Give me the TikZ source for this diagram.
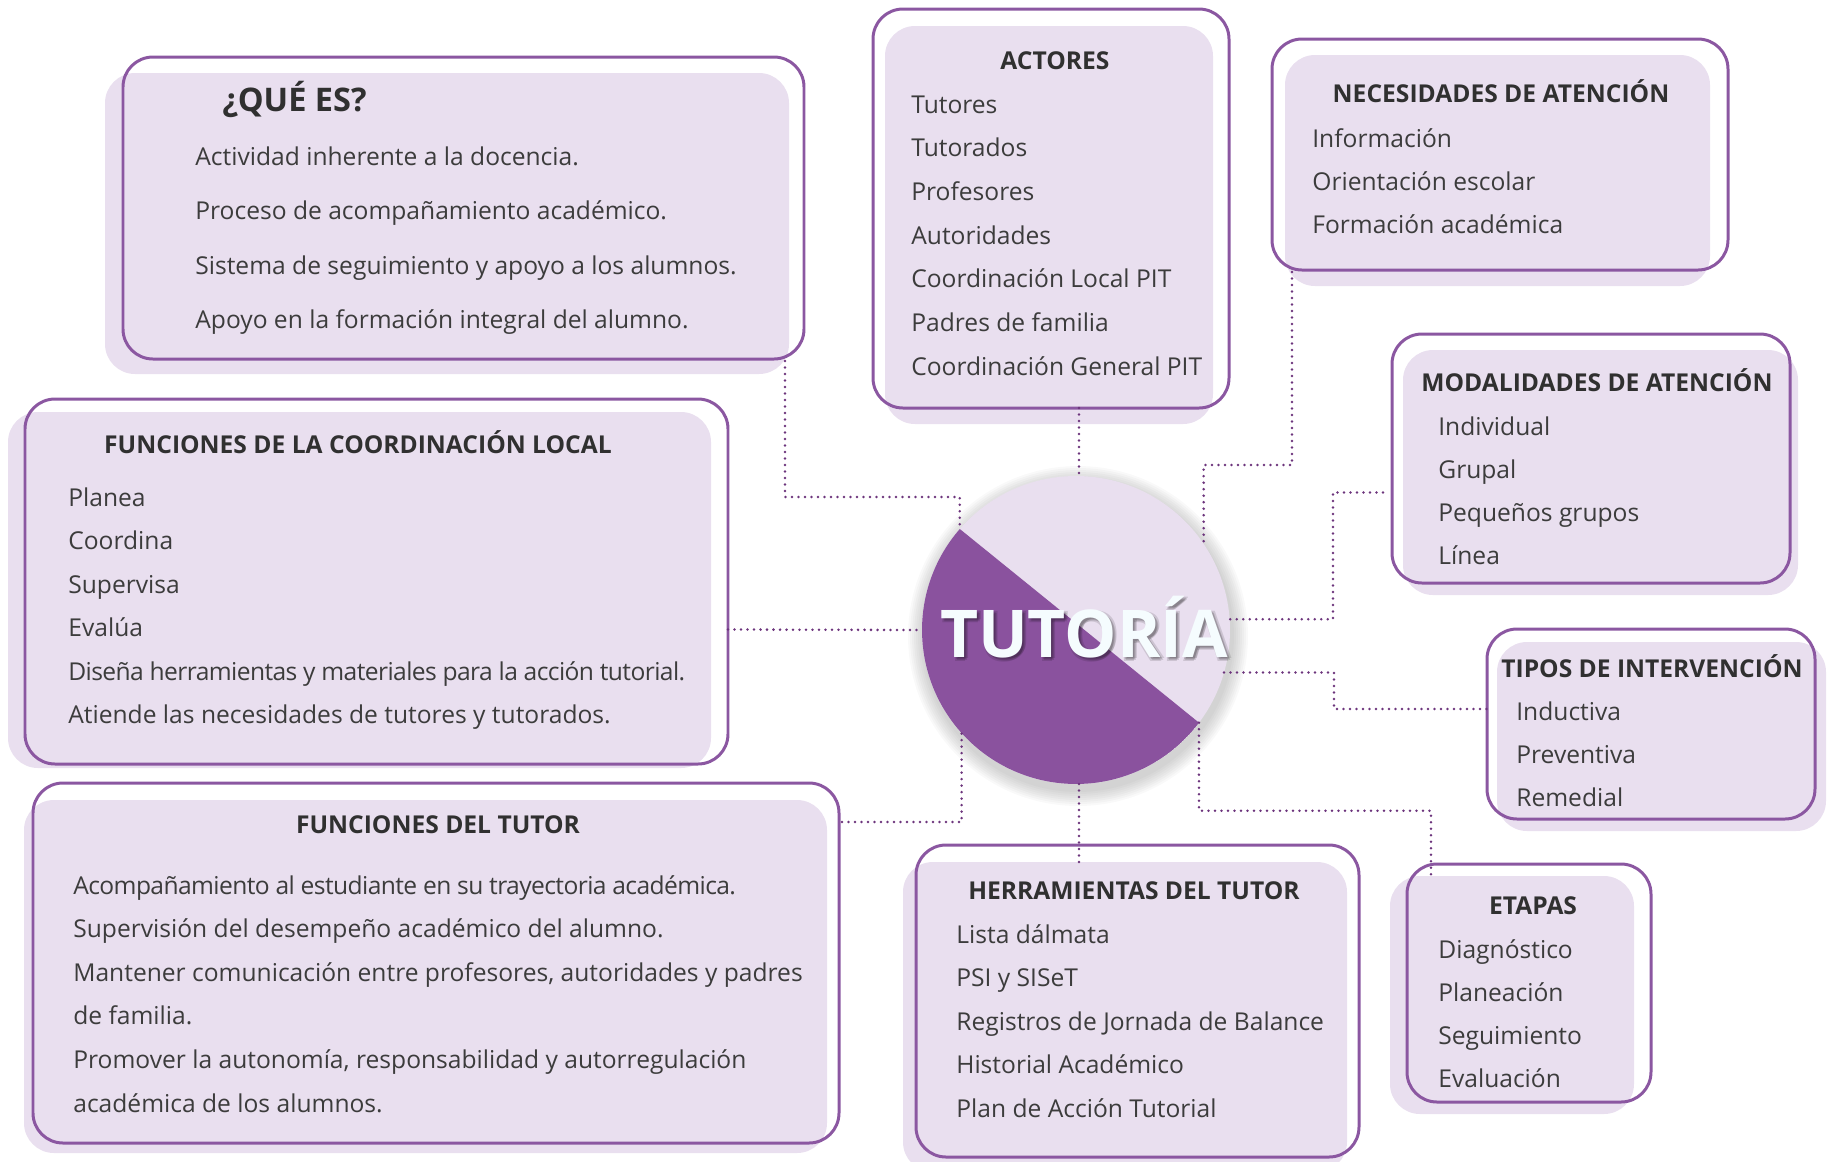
\documentclass[tikz,border=0pt]{standalone}
\usepackage{fontspec}
\setmainfont{Open Sans}
\usepackage{xcolor}
\definecolor{tutline}{RGB}{139,87,161}
\definecolor{tutfill}{RGB}{233,223,239}
\definecolor{tutdark}{RGB}{138,82,158}
\definecolor{tutdots}{RGB}{108,52,124}
\definecolor{tuttext}{RGB}{60,60,60}
\usepackage{tikz}
\newcommand{\px}{0.02cm}
\newcommand{\itemfont}{\fontsize{14}{17}\selectfont}
\newcommand{\titlefont}{\fontsize{14}{17}\selectfont\bfseries}
\newcommand{\bigtitlefont}{\fontsize{18.5}{22}\selectfont\bfseries}
\newcommand{\centerfont}{\fontsize{37.5}{40}\selectfont\bfseries}
\newcommand{\tight}{\addfontfeature{LetterSpace=-2.4}}
\tikzset{
    card/.style={draw=tutline, line width=1.7pt, rounded corners=0.6cm, inner sep=0, outer sep=0},
    cardbg/.style={fill=tutfill, rounded corners=0.6cm, inner sep=0, outer sep=0},
    heading/.style={anchor=base, inner sep=0, font=\titlefont, text=tuttext!80!black},
    entry/.style={anchor=base west, inner sep=0, font=\itemfont, text=tuttext},
    link/.style={tutdots, line width=1.6pt, line cap=round, dash pattern=on 0pt off 3.7pt}
}
\begin{document}
\begin{tikzpicture}[x=\px, y=-\px]
    \useasboundingbox (0,0) rectangle (1827,1161);

    % backgrounds
    \node[cardbg, minimum width=684*\px, minimum height=301*\px] (quees-bg) at (447,223.5) {};
    \node[cardbg, minimum width=328*\px, minimum height=398*\px] (actores-bg) at (1049,225) {};
    \node[cardbg, minimum width=425*\px, minimum height=231*\px] (necesidades-bg) at (1497.5,170.5) {};
    \node[cardbg, minimum width=395*\px, minimum height=245*\px] (modalidades-bg) at (1600.5,472.5) {};
    \node[cardbg, minimum width=329*\px, minimum height=189*\px] (tipos-bg) at (1661.5,736.5) {};
    \node[cardbg, minimum width=244*\px, minimum height=238*\px] (etapas-bg) at (1512,995) {};
    \node[cardbg, minimum width=444*\px, minimum height=310*\px] (herramientas-bg) at (1125,1017) {};
    \node[cardbg, minimum width=803*\px, minimum height=353*\px] (tutor-bg) at (425.5,976.5) {};
    \node[cardbg, minimum width=703*\px, minimum height=356*\px] (coordloc-bg) at (359.5,590) {};

    % outlines
    \node[card, minimum width=681*\px, minimum height=302*\px] (quees) at (463.5,208) {};
    \node[card, minimum width=356*\px, minimum height=399*\px] (actores) at (1051,208.5) {};
    \node[card, minimum width=456*\px, minimum height=231*\px] (necesidades) at (1500,154.5) {};
    \node[card, minimum width=398*\px, minimum height=249*\px] (modalidades) at (1591,458.5) {};
    \node[card, minimum width=328*\px, minimum height=190*\px] (tipos) at (1651,724) {};
    \node[card, minimum width=244*\px, minimum height=238*\px] (etapas) at (1529,983) {};
    \node[card, minimum width=443*\px, minimum height=312*\px] (herramientas) at (1137.5,1001) {};
    \node[card, minimum width=806*\px, minimum height=360*\px] (tutor) at (436,963) {};
    \node[card, minimum width=703*\px, minimum height=365*\px] (coordloc) at (376.5,581.5) {};

    % centre
    \foreach \r in {1,...,8}
        \fill[black, opacity=0.025] (1078,636) circle[radius=3.08cm+\r*0.04cm];
    \node[circle, minimum size=6.16cm, inner sep=0, outer sep=0, fill=tutfill,
        path picture={\fill[tutdark] (path picture bounding box.center) ++(139:3.08cm)
            arc[start angle=139, end angle=323, radius=3.08cm] -- cycle;}] (tutoria) at (1076,630) {};

    \draw[link] ([shift={(-19,2)}]quees.south east) -- ++(0,136) -| (tutoria.139);
    \draw[link] ([xshift=3*\px]tutoria.north |- actores.south) -- ([xshift=3*\px]tutoria.north);
    \draw[link] ([shift={(20,2)}]necesidades.south west) -- ++(0,193) -| (tutoria.34);
    \draw[link] ([shift={(-9,34)}]modalidades.west) -- ++(-50,0) |- (tutoria.4);
    \draw[link] (tutoria.344) -- ++(110,0) |- ([yshift=15*\px]tipos.west);
    \draw[link] (tutoria.323) -- ++(0,88) -| ([shift={(24,13)}]etapas.north west);
    \draw[link] ([xshift=3*\px]tutoria.south) -- ([xshift=3*\px]tutoria.south |- herramientas-bg.north);
    \draw[link] ([shift={(3,-141)}]tutor.east) -| (tutoria.222);
    \draw[link] ([yshift=-48*\px]coordloc.east) -- (tutoria.west);

    \foreach \dx/\dy [count=\k] in {3/3, 1/4, 4/1, 2/2}
        \node[anchor=base, inner sep=0, font=\centerfont, text=black, opacity=0.12] (tutoria-glow-\k) at (1084+\dx,657+\dy) {TUTORÍA};
    \node[anchor=base, inner sep=0, font=\centerfont, text=white!96!cyan] (tutoria-label) at (1084,657) {TUTORÍA};

    % texts
    \node[anchor=base west, inner sep=0, font=\bigtitlefont, text=tuttext!80!black] (quees-title) at (222,111) {¿QUÉ ES?};
    \foreach \txt [count=\i from 0] in {Actividad inherente a la docencia., Proceso de acompañamiento académico.,
        Sistema de seguimiento y apoyo a los alumnos., Apoyo en la formación integral del alumno.}
        \node[entry] (quees-\i) at (195,165+54.5*\i) {\txt};

    \node[heading] (actores-title) at (1055,69) {ACTORES};
    \foreach \txt [count=\i from 0] in {Tutores, Tutorados, Profesores, Autoridades,
        Coordinación Local PIT, Padres de familia, Coordinación General PIT}
        \node[entry] (actores-\i) at (911,113+43.7*\i) {\txt};

    \node[heading] (necesidades-title) at (1501,102) {NECESIDADES DE ATENCIÓN};
    \foreach \txt [count=\i from 0] in {Información, Orientación escolar, Formación académica}
        \node[entry] (necesidades-\i) at (1312,147+43.3*\i) {\txt};

    \node[heading] (modalidades-title) at (1597,391) {MODALIDADES DE ATENCIÓN};
    \foreach \txt [count=\i from 0] in {Individual, Grupal, Pequeños grupos, Línea}
        \node[entry] (modalidades-\i) at (1438,435+43.3*\i) {\txt};

    \node[heading] (tipos-title) at (1652,677) {TIPOS DE INTERVENCIÓN};
    \foreach \txt [count=\i from 0] in {Inductiva, Preventiva, Remedial}
        \node[entry] (tipos-\i) at (1516,720+43.3*\i) {\txt};

    \node[heading] (etapas-title) at (1533,914) {ETAPAS};
    \foreach \txt [count=\i from 0] in {Diagnóstico, Planeación, Seguimiento, Evaluación}
        \node[entry] (etapas-\i) at (1438,958+43.3*\i) {\txt};

    \node[heading] (herramientas-title) at (1134,899) {HERRAMIENTAS DEL TUTOR};
    \foreach \txt [count=\i from 0] in {Lista dálmata, PSI y SISeT, Registros de Jornada de Balance,
        Historial Académico, Plan de Acción Tutorial}
        \node[entry] (herramientas-\i) at (956,943+43.5*\i) {\txt};

    \node[heading] (tutor-title) at (438,833) {FUNCIONES DEL TUTOR};
    \foreach \txt [count=\i from 0] in {{\tight Acompañamiento al estudiante en su trayectoria académica.},
        Supervisión del desempeño académico del alumno.,
        {Mantener comunicación entre profesores, autoridades y padres}, de familia.,
        {Promover la autonomía, responsabilidad y autorregulación}, académica de los alumnos.}
        \node[entry] (tutor-\i) at (73,894+43.6*\i) {\txt};

    \node[heading] (coordloc-title) at (358,453) {FUNCIONES DE LA COORDINACIÓN LOCAL};
    \foreach \txt [count=\i from 0] in {Planea, Coordina, Supervisa, Evalúa,
        {\tight Diseña herramientas y materiales para la acción tutorial.},
        Atiende las necesidades de tutores y tutorados.}
        \node[entry] (coordloc-\i) at (68,506+43.5*\i) {\txt};
\end{tikzpicture}
\end{document}
